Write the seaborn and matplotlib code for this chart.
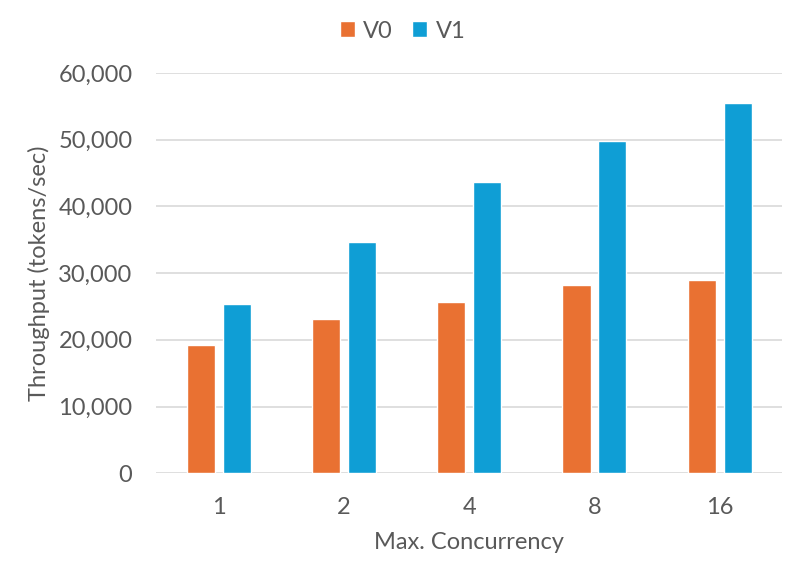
import pandas as pd
import seaborn as sns
import matplotlib.pyplot as plt
import matplotlib.ticker as mticker

# Values
concurrency = ["1", "2", "4", "8", "16"]
v0_throughput = [19250, 23050, 25700, 28250, 28900]
v1_throughput = [25350, 34600, 43700, 49850, 55550]

df = pd.DataFrame({
    "Max. Concurrency": concurrency * 2,
    "Throughput": v0_throughput + v1_throughput,
    "Version": ["V0"] * len(concurrency) + ["V1"] * len(concurrency),
})

sns.set_theme(style="white")
plt.rcParams["font.family"] = ["Lato", "DejaVu Sans"]
text_color = "#595959"

fig = plt.figure(figsize=(8, 5.75), dpi=100)
ax = fig.add_axes([0.195, 0.177, 0.783, 0.696])

sns.barplot(
    data=df, x="Max. Concurrency", y="Throughput", hue="Version",
    order=concurrency, hue_order=["V0", "V1"],
    palette=["#E97132", "#0F9ED5"], width=0.574, gap=0.22,
    saturation=1, ax=ax, zorder=3,
)

ax.set_ylim(0, 60000)
ax.set_xlim(-0.5, 4.5)
ax.yaxis.set_major_locator(mticker.MultipleLocator(10000))
ax.yaxis.set_major_formatter(mticker.FuncFormatter(lambda x, _: f"{x:,.0f}"))
ax.grid(axis="y", color="#D9D9D9", linewidth=1.2, zorder=0)
for s in ax.spines.values():
    s.set_visible(False)
ax.tick_params(axis="both", length=0, labelsize=17, colors=text_color)
ax.tick_params(axis="x", pad=17)
ax.tick_params(axis="y", pad=17)

ax.set_xlabel("Max. Concurrency", fontsize=17, color=text_color, labelpad=10)
ax.set_ylabel("Throughput (tokens/sec)", fontsize=17, color=text_color, labelpad=6)

ax.get_legend().remove()
handles, labels = ax.get_legend_handles_labels()
fig.legend(
    handles, labels, loc="center", bbox_to_anchor=(0.503, 1 - 31 / 575), ncol=2,
    frameon=False, fontsize=17, labelcolor=text_color, handlelength=0.65,
    handleheight=0.65, handletextpad=0.35, columnspacing=0.8,
)

fig.savefig("out.png", dpi=100)
